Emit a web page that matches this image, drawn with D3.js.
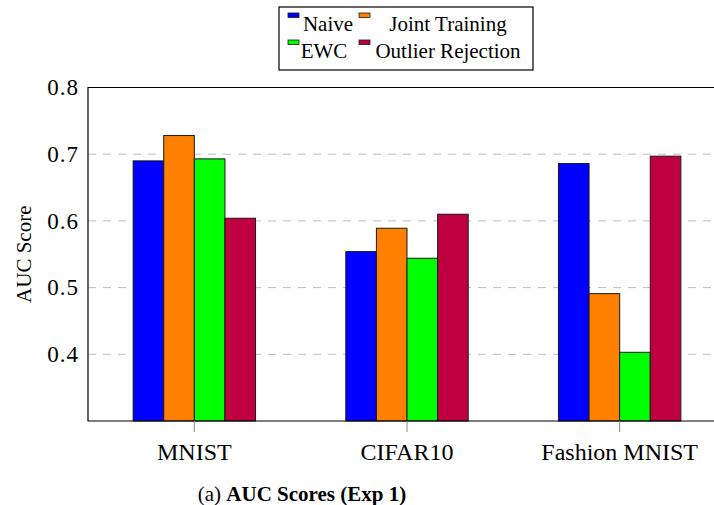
<!DOCTYPE html>
<html><head><meta charset="utf-8">
<script src="https://cdn.jsdelivr.net/npm/d3@7"></script>
<style>
html,body{margin:0;padding:0;background:#fff;}
svg{display:block;}
</style></head>
<body>
<svg id="chart" width="714" height="505"></svg>
<script>
const categories = ["MNIST", "CIFAR10", "Fashion MNIST"];
const seriesNames = ["Naive", "Joint Training", "EWC", "Outlier Rejection"];
const naive = [0.690, 0.554, 0.686];
const jointTraining = [0.728, 0.589, 0.491];
const ewc = [0.693, 0.544, 0.403];
const outlierRejection = [0.604, 0.610, 0.697];
const yTicks = [0.4, 0.5, 0.6, 0.7, 0.8];
const colors = ["#0000ff", "#ff8000", "#00ff00", "#bf0040"];
const seriesValues = [naive, jointTraining, ewc, outlierRejection];

(function () {
const FONT = "Liberation Serif";
const svg = d3.select("#chart").attr("font-family", FONT);
const pLeft = 88, pRight = 726, pTop = 87.5, pBottom = 421;

const x = d3.scaleBand().domain(categories).range([pLeft, pRight]).paddingInner(0).paddingOuter(0);
const y = d3.scaleLinear().domain([0.3, 0.8]).range([pBottom, pTop]);
const groupWidth = 122.4;
const xs = d3.scaleBand().domain(seriesNames).range([0, groupWidth]).padding(0);

// grid
svg.append("g").selectAll("line").data(yTicks.filter(d => d < 0.8)).join("line")
  .attr("x1", pLeft).attr("x2", pRight)
  .attr("y1", d => y(d)).attr("y2", d => y(d))
  .attr("stroke", "#bdbdbd").attr("stroke-width", 1)
  .attr("stroke-dasharray", "8,7");

// bars
const rows = [];
categories.forEach((c, i) => seriesNames.forEach((s, j) => rows.push({c, s, j, v: seriesValues[j][i]})));
svg.append("g").selectAll("rect").data(rows).join("rect")
  .attr("x", d => x(d.c) + x.bandwidth() / 2 - groupWidth / 2 + xs(d.s))
  .attr("width", xs.bandwidth())
  .attr("y", d => y(d.v))
  .attr("height", d => pBottom - y(d.v))
  .attr("fill", d => colors[d.j])
  .attr("stroke", "#1a1a1a").attr("stroke-width", 1);

// frame
svg.append("path")
  .attr("d", `M${pRight},${pTop}H${pLeft}V${pBottom}H${pRight}`)
  .attr("fill", "none").attr("stroke", "#000").attr("stroke-width", 1.2);

// x axis
const xAxis = d3.axisBottom(x).tickSize(11).tickPadding(10);
const gx = svg.append("g").attr("transform", `translate(0,${pBottom})`).call(xAxis)
  .attr("font-family", FONT).attr("font-size", 24);
gx.select(".domain").remove();
gx.selectAll(".tick line").attr("stroke", "#8a8a8a");
gx.selectAll(".tick text").attr("dy", "0.75em").attr("fill", "#000");

// y axis
const yAxis = d3.axisLeft(y).tickValues(yTicks).tickSize(0).tickPadding(9).tickFormat(d3.format(".1f"));
const gy = svg.append("g").attr("transform", `translate(${pLeft},0)`).call(yAxis)
  .attr("font-family", FONT).attr("font-size", 23);
gy.select(".domain").remove();
gy.selectAll(".tick text").attr("fill", "#000").attr("letter-spacing", 1);

// y label
svg.append("text")
  .attr("transform", `translate(31,${(pTop + pBottom) / 2}) rotate(-90)`)
  .attr("font-family", FONT)
  .attr("text-anchor", "middle").attr("font-size", 21).text("AUC Score");

// legend
const lg = svg.append("g");
lg.append("rect").attr("x", 279).attr("y", 7).attr("width", 254).attr("height", 63)
  .attr("fill", "#fff").attr("stroke", "#000").attr("stroke-width", 1.2);
const legendPos = [
  {mx: 288, tx: 328, y: 31},
  {mx: 359, tx: 448, y: 31},
  {mx: 288, tx: 324, y: 58},
  {mx: 359, tx: 448, y: 58}
];
seriesNames.forEach((s, j) => {
  const p = legendPos[j];
  lg.append("rect").attr("x", p.mx).attr("y", p.y - 18).attr("width", 11).attr("height", 4.5)
    .attr("fill", colors[j]).attr("stroke", "#1a1a1a").attr("stroke-width", 0.8);
  lg.append("text").attr("x", p.tx).attr("y", p.y).attr("text-anchor", "middle")
    .attr("font-family", FONT).attr("font-size", 21).text(s);
});

// caption
const cap = svg.append("text").attr("x", 302).attr("y", 501).attr("text-anchor", "middle")
  .attr("font-family", FONT).attr("font-size", 21);
cap.append("tspan").text("(a) ");
cap.append("tspan").attr("font-weight", "bold").text("AUC Scores (Exp 1)");
})();
</script>
</body></html>
